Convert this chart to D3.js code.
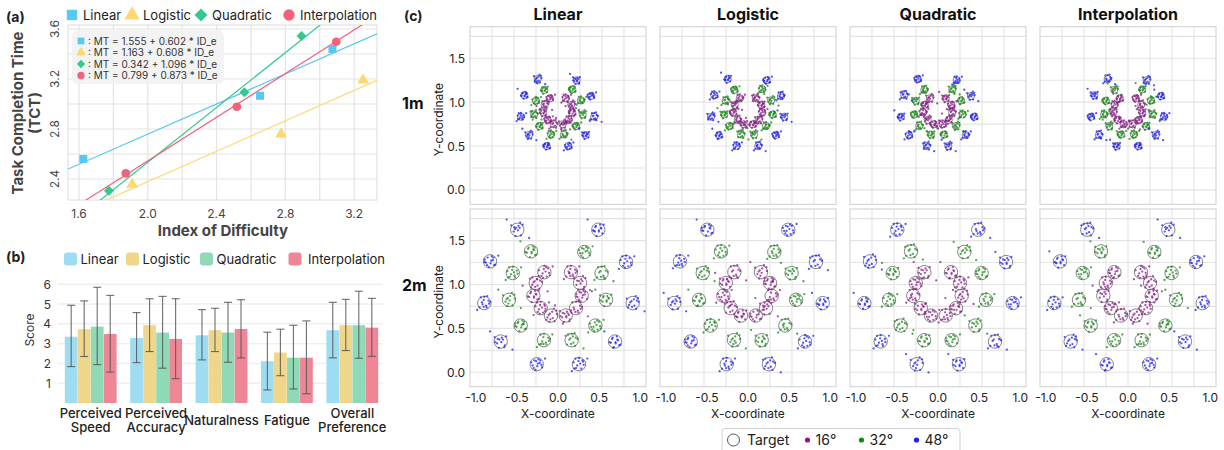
<!DOCTYPE html>
<html><head><meta charset="utf-8">
<script src="https://cdn.jsdelivr.net/npm/d3@7"></script>
<style>
body{margin:0;background:#fff;}
svg{font-family:Inter,"Noto Sans",sans-serif;}
</style></head>
<body><svg id="c" width="1224" height="450"></svg>
<script>
// ---------- DATA ----------
const methods = ["Linear","Logistic","Quadratic","Interpolation"];
const colorsA = ["#56c8f2","#fcd873","#33c98f","#f1627c"];
const colorsB = ["#9edcf1","#efd68a","#8fd9b6","#ee8696"];
// (a) index of difficulty vs TCT
const idLinear = [1.625, 2.653, 3.074], tctLinear = [2.56, 3.066, 3.44];
const idLogistic = [1.909, 2.775, 3.252], tctLogistic = [2.357, 2.76, 3.192];
const idQuadratic = [1.774, 2.562, 2.894], tctQuadratic = [2.306, 3.094, 3.544];
const idInterp = [1.872, 2.518, 3.096], tctInterp = [2.445, 2.978, 3.498];
const fitIntercept = [1.555, 1.163, 0.342, 0.799];
const fitSlope = [0.602, 0.608, 1.096, 0.873];
const xTicksA = [1.6, 2.0, 2.4, 2.8, 3.2];
const yTicksA = [2.4, 2.8, 3.2, 3.6];
// (b) subjective ratings
const categoriesB = [["Perceived","Speed"],["Perceived","Accuracy"],["Naturalness"],["Fatigue"],["Overall","Preference"]];
const meanLinear = [3.35, 3.29, 3.42, 2.11, 3.68];
const meanLogistic = [3.73, 3.93, 3.68, 2.55, 3.93];
const meanQuadratic = [3.86, 3.56, 3.56, 2.29, 3.93];
const meanInterp = [3.49, 3.24, 3.74, 2.29, 3.81];
const errLoLinear = [1.84, 2.04, 2.18, 0.66, 2.28], errHiLinear = [4.94, 4.57, 4.72, 3.58, 5.09];
const errLoLogistic = [2.35, 2.6, 2.6, 1.38, 2.65], errHiLogistic = [5.16, 5.27, 4.79, 3.73, 5.24];
const errLoQuadratic = [1.94, 1.76, 2.06, 0.71, 2.26], errHiQuadratic = [5.85, 5.39, 5.09, 3.93, 5.65];
const errLoInterp = [1.56, 1.23, 2.28, 0.47, 2.36], errHiInterp = [5.44, 5.27, 5.22, 4.15, 5.29];
const yTicksB = [1,2,3,4,5,6];
// (c) target positions (x, y) per ring and distance
const targets2m_16 = [[-0.166,1.14],[0.158,1.14],[-0.27,1.016],[0.268,1.016],[-0.30,0.871],[0.288,0.871],[-0.21,0.73],[0.219,0.73],[-0.085,0.646],[0.094,0.646]];
const targets2m_32 = [[-0.328,1.377],[0.32,1.37],[-0.55,1.13],[0.53,1.13],[-0.596,0.825],[0.584,0.825],[-0.454,0.532],[0.454,0.532],[-0.17,0.365],[0.166,0.365]];
const targets2m_48 = [[-0.495,1.624],[0.49,1.624],[-0.827,1.263],[0.827,1.256],[-0.896,0.788],[0.908,0.788],[-0.697,0.35],[0.693,0.35],[-0.259,0.091],[0.255,0.091]];
const targets1m_16 = [[-0.10,1.044],[0.095,1.044],[-0.162,0.97],[0.161,0.97],[-0.18,0.883],[0.173,0.883],[-0.126,0.798],[0.131,0.798],[-0.051,0.748],[0.056,0.748]];
const targets1m_32 = [[-0.166,1.14],[0.174,1.146],[-0.27,1.016],[0.28,1.02],[-0.29,0.86],[0.30,0.86],[-0.227,0.728],[0.219,0.728],[-0.085,0.632],[0.073,0.632]];
const targets1m_48 = [[-0.247,1.264],[0.227,1.25],[-0.41,1.08],[0.40,1.07],[-0.45,0.834],[0.44,0.834],[-0.353,0.625],[0.337,0.625],[-0.137,0.50],[0.125,0.50]];
// hand-read scatter of user endpoints around a target (normalised offsets)
const hitOffsets = [[0.1,-0.3],[0.5,0.2],[-0.4,0.6],[-0.7,-0.2],[0.3,0.8],[0.9,-0.5],[-0.2,-0.9],[0.6,0.6],[-0.9,0.3],[0.2,0.1],
 [-0.5,-0.6],[1.4,0.9],[-0.1,0.5],[0.8,-0.1],[-0.3,-0.2],[0.4,-0.7],[-1.2,-1.1],[0.0,1.0],[-0.6,0.9],[0.7,0.4],
 [-0.8,-0.7],[0.3,-0.4],[-0.1,-0.6],[1.0,0.2],[-0.4,0.1],[0.5,1.1],[2.0,-1.3],[-0.2,0.3],[0.6,-0.9],[-1.0,0.7],
 [0.2,0.6],[-0.6,-0.3],[0.9,0.8],[-0.3,-1.0],[0.1,-0.1],[-1.8,1.6],[0.4,0.3],[-0.5,0.4],[0.7,-0.6],[-0.9,-0.1]];
const ringLabels = ["16°","32°","48°"];
const ringColors = ["#8a1a8a","#168a16","#1f1ff5"];
const rowLabels = ["1m","2m"];
const xTicksC = [-1,-0.5,0,0.5,1];
const xTickLabelsC = ["-1.0","-0.5","0.0","0.5","1.0"];
const yTicksC = [0,0.5,1,1.5];
const yTickLabelsC = ["0.0","0.5","1.0","1.5"];

// ---------- DRAW ----------
const svg = d3.select("#c");
svg.append("rect").attr("width",1224).attr("height",450).attr("fill","#fff");

// ===== Panel (a) =====
const gA = svg.append("g");
const xA = d3.scaleLinear().domain([1.536, 3.333]).range([68, 377]);
const yA = d3.scaleLinear().domain([2.232, 3.632]).range([200, 25]);
gA.append("text").attr("x",6).attr("y",22).attr("font-size",14).attr("font-weight",700).attr("fill","#222").text("(a)");
gA.append("g").selectAll("line").data(d3.range(1.6,3.3,0.2)).join("line")
  .attr("x1",d=>xA(d)).attr("x2",d=>xA(d)).attr("y1",25).attr("y2",200).attr("stroke","#e4e4e4").attr("stroke-width",1.2);
gA.append("g").selectAll("line").data(d3.range(2.4,3.65,0.2)).join("line")
  .attr("y1",d=>yA(d)).attr("y2",d=>yA(d)).attr("x1",68).attr("x2",377).attr("stroke","#e4e4e4").attr("stroke-width",1.2);
gA.append("rect").attr("x",68).attr("y",25).attr("width",309).attr("height",175).attr("fill","none").attr("stroke","#dcdcdc");
gA.selectAll(".xt").data(xTicksA).join("text").attr("x",d=>xA(d)).attr("y",218).attr("text-anchor","middle")
  .attr("font-size",12).attr("fill","#444").text(d=>d.toFixed(1));
gA.selectAll(".yt").data(yTicksA).join("text").attr("transform",d=>`translate(59,${yA(d)}) rotate(-90)`)
  .attr("text-anchor","middle").attr("font-size",12).attr("fill","#444").text(d=>d.toFixed(1));
gA.append("text").attr("x",223).attr("y",236).attr("text-anchor","middle").attr("font-size",15).attr("font-weight",700).attr("fill","#444").text("Index of Difficulty");
gA.append("text").attr("transform","translate(23,113) rotate(-90)").attr("text-anchor","middle").attr("font-size",15).attr("font-weight",700).attr("fill","#444").text("Task Completion Time");
gA.append("text").attr("transform","translate(40,113) rotate(-90)").attr("text-anchor","middle").attr("font-size",15).attr("font-weight",700).attr("fill","#444").text("(TCT)");
svg.append("clipPath").attr("id","clipA").append("rect").attr("x",68).attr("y",25).attr("width",309).attr("height",175);
const fits = gA.append("g").attr("clip-path","url(#clipA)");
methods.forEach((m,i)=>{
  const [x0,x1] = xA.domain();
  fits.append("line").attr("x1",xA(x0)).attr("y1",yA(fitIntercept[i]+fitSlope[i]*x0))
    .attr("x2",xA(x1)).attr("y2",yA(fitIntercept[i]+fitSlope[i]*x1)).attr("stroke",colorsA[i]).attr("stroke-width",1.2);
});
const symTypes = [d3.symbolSquare, d3.symbolTriangle, d3.symbolSquare, d3.symbolCircle];
const symSizes = [64, 60, 50, 60];
const symRot = [0,0,45,0];
const ptsA = [[idLinear,tctLinear],[idLogistic,tctLogistic],[idQuadratic,tctQuadratic],[idInterp,tctInterp]];
ptsA.forEach(([xs,ys],i)=>{
  gA.append("g").selectAll("path").data(xs.map((x,j)=>[x,ys[j]])).join("path")
    .attr("d",d3.symbol().type(symTypes[i]).size(symSizes[i]))
    .attr("transform",d=>`translate(${xA(d[0])},${yA(d[1])}) rotate(${symRot[i]})`).attr("fill",colorsA[i]);
});
// equation box
gA.append("rect").attr("x",72).attr("y",30).attr("width",152).attr("height",54).attr("rx",6).attr("fill","#f2f2f2").attr("opacity",0.92);
methods.forEach((m,i)=>{
  const y = 41 + i*11.5;
  gA.append("path").attr("d",d3.symbol().type(symTypes[i]).size(symSizes[i]*0.7))
    .attr("transform",`translate(81,${y}) rotate(${symRot[i]})`).attr("fill",colorsA[i]);
  gA.append("text").attr("x",88).attr("y",y+3.5).attr("font-size",10).attr("fill","#333")
    .text(`: MT = ${fitIntercept[i].toFixed(3)} + ${fitSlope[i].toFixed(3)} * ID_e`);
});
// legend (a)
const legAx = [72, 132, 201, 289];
methods.forEach((m,i)=>{
  gA.append("path").attr("d",d3.symbol().type(symTypes[i]).size(symSizes[i]*1.7))
    .attr("transform",`translate(${legAx[i]},15) rotate(${symRot[i]})`).attr("fill",colorsA[i]);
  gA.append("text").attr("x",legAx[i]+11).attr("y",20).attr("font-size",13).attr("fill","#222").text(m);
});

// ===== Panel (b) =====
const gB = svg.append("g");
gB.append("text").attr("x",6).attr("y",262).attr("font-size",14).attr("font-weight",700).attr("fill","#222").text("(b)");
const yB = d3.scaleLinear().domain([0,6]).range([403,284.3]);
const x0B = d3.scaleBand().domain(d3.range(categoriesB.length)).range([58,385]).paddingInner(0.2).paddingOuter(0.1);
const x1B = d3.scaleBand().domain(d3.range(4)).range([0,x0B.bandwidth()]).padding(0.02);
gB.selectAll(".g").data(yTicksB).join("line").attr("x1",58).attr("x2",383).attr("y1",d=>yB(d)).attr("y2",d=>yB(d))
  .attr("stroke","#efefef").attr("stroke-width",1.5);
gB.selectAll(".yt").data(yTicksB).join("text").attr("x",51).attr("y",d=>yB(d)+4.5).attr("text-anchor","end")
  .attr("font-size",12).attr("fill","#333").text(d=>d);
gB.append("text").attr("transform","translate(34,330) rotate(-90)").attr("text-anchor","middle").attr("font-size",12).attr("fill","#333").text("Score");
const meansB = [meanLinear, meanLogistic, meanQuadratic, meanInterp];
const loB = [errLoLinear, errLoLogistic, errLoQuadratic, errLoInterp];
const hiB = [errHiLinear, errHiLogistic, errHiQuadratic, errHiInterp];
categoriesB.forEach((cat,ci)=>{
  const g = gB.append("g").attr("transform",`translate(${x0B(ci)},0)`);
  methods.forEach((m,mi)=>{
    g.append("rect").attr("x",x1B(mi)).attr("y",yB(meansB[mi][ci])).attr("width",x1B.bandwidth())
      .attr("height",yB(0)-yB(meansB[mi][ci])).attr("fill",colorsB[mi]);
  });
  methods.forEach((m,mi)=>{
    const cx = x1B(mi)+x1B.bandwidth()/2;
    g.append("line").attr("x1",cx).attr("x2",cx).attr("y1",yB(loB[mi][ci])).attr("y2",yB(hiB[mi][ci])).attr("stroke","#555").attr("stroke-width",1.1).attr("opacity",0.85);
    [loB[mi][ci],hiB[mi][ci]].forEach(v=>g.append("line").attr("x1",cx-4).attr("x2",cx+4).attr("y1",yB(v)).attr("y2",yB(v)).attr("stroke","#555").attr("stroke-width",1.1).attr("opacity",0.85));
  });
  const cx = x0B(ci)+x0B.bandwidth()/2;
  const lines = cat;
  lines.forEach((t,li)=>{
    gB.append("text").attr("x",cx).attr("y", lines.length===1 ? 424.5 : 418 + li*14).attr("text-anchor","middle")
      .attr("font-size",13).attr("font-weight",500).attr("fill","#222").text(t);
  });
});
const legBx = [64, 126, 200, 288.5];
methods.forEach((m,i)=>{
  gB.append("rect").attr("x",legBx[i]).attr("y",252.5).attr("width",13).attr("height",13).attr("rx",3).attr("fill",colorsB[i]);
  gB.append("text").attr("x",legBx[i]+(i===3?19.5:16.5)).attr("y",263.5).attr("font-size",13).attr("fill","#222").text(m);
});

// ===== Panel (c) =====
const gC = svg.append("g");
gC.append("text").attr("x",404).attr("y",21).attr("font-size",14).attr("font-weight",700).attr("fill","#222").text("(c)");
const colB = d3.scaleBand().domain(d3.range(4)).range([470,1216]).paddingInner(0.0737);
const rowTops = [26.7, 209];
const panelH = 177.7;
const xDom = [-1.07, 1.07], yDom = [-0.165, 1.86];
const targetsByRow = [[targets1m_16,targets1m_32,targets1m_48],[targets2m_16,targets2m_32,targets2m_48]];
const spreadByRow = [0.045, 0.072];
const circleR = [3.6, 6.7];
const ptsPerTarget = 14;
methods.forEach((m,c)=>{
  gC.append("text").attr("x",colB(c)+colB.bandwidth()/2).attr("y",20).attr("text-anchor","middle")
    .attr("font-size",16).attr("font-weight",700).attr("fill","#111").text(m);
});
rowLabels.forEach((lab,r)=>{
  gC.append("text").attr("x",402).attr("y",rowTops[r]+panelH/2-7).attr("font-size",16).attr("font-weight",700).attr("fill","#111").text(lab);
  gC.append("text").attr("transform",`translate(443,${rowTops[r]+panelH/2+4}) rotate(-90)`).attr("text-anchor","middle")
    .attr("font-size",12).attr("fill","#222").text("Y-coordinate");
});
for(let r=0;r<2;r++){
  for(let c=0;c<4;c++){
    const p = r*4+c;
    const left = colB(c), w = colB.bandwidth(), top = rowTops[r];
    const xs = d3.scaleLinear().domain(xDom).range([left,left+w]);
    const ys = d3.scaleLinear().domain(yDom).range([top+panelH,top]);
    const g = gC.append("g");
    g.append("rect").attr("x",left).attr("y",top).attr("width",w).attr("height",panelH).attr("fill","#fff");
    const vGrid = d3.range(1,8).map(i=>xDom[0]+i*(xDom[1]-xDom[0])/8);
    g.selectAll(".vg").data(vGrid).join("line").attr("x1",d=>xs(d)).attr("x2",d=>xs(d)).attr("y1",top).attr("y2",top+panelH).attr("stroke","#e3e3e3").attr("stroke-width",1.1);
    g.selectAll(".hg").data(d3.range(0,1.8,0.25)).join("line").attr("y1",d=>ys(d)).attr("y2",d=>ys(d)).attr("x1",left).attr("x2",left+w).attr("stroke","#e3e3e3").attr("stroke-width",1.1);
    g.append("rect").attr("x",left).attr("y",top).attr("width",w).attr("height",panelH).attr("fill","none").attr("stroke","#d6d6d6").attr("stroke-width",1.2);
    // points
    const pts = [];
    targetsByRow[r].forEach((ring,ri)=>{
      ring.forEach((t,ti)=>{
        const k = ri*10+ti;
        const start = (k*7 + p*11) % hitOffsets.length;
        for(let j=0;j<ptsPerTarget;j++){
          const o = hitOffsets[(start+j)%hitOffsets.length];
          pts.push({x:t[0]+o[0]*spreadByRow[r], y:t[1]+o[1]*spreadByRow[r], ring:ri});
        }
      });
    });
    targetsByRow[r].forEach(ring=>{
      g.append("g").selectAll("circle").data(ring).join("circle").attr("cx",d=>xs(d[0])).attr("cy",d=>ys(d[1]))
        .attr("r",circleR[r]).attr("fill","none").attr("stroke","#666").attr("stroke-width",0.8);
    });
    g.append("g").selectAll("circle").data(pts).join("circle").attr("cx",d=>xs(d.x)).attr("cy",d=>ys(d.y))
      .attr("r",r===0?1.15:1.15).attr("fill",d=>ringColors[d.ring]).attr("opacity",0.75);
    if(c===0){
      g.selectAll(".yl").data(yTicksC).join("text").attr("x",left-5).attr("y",(d)=>ys(d)+4.5).attr("text-anchor","end")
        .attr("font-size",12).attr("fill","#222").text((d,i)=>yTickLabelsC[i]);
    }
    if(r===1){
      g.selectAll(".xl").data(xTicksC).join("text").attr("x",d=>xs(d)).attr("y",401.5).attr("text-anchor","middle")
        .attr("font-size",12).attr("fill","#222").text((d,i)=>xTickLabelsC[i]);
      g.append("text").attr("x",left+w/2).attr("y",417.5).attr("text-anchor","middle").attr("font-size",12).attr("fill","#222").text("X-coordinate");
    }
  }
}
// legend (c)
const gL = gC.append("g");
gL.append("rect").attr("x",722).attr("y",428.5).attr("width",238).attr("height",30).attr("rx",3).attr("fill","#fff").attr("stroke","#d0d0d0");
gL.append("circle").attr("cx",733.5).attr("cy",440).attr("r",6).attr("fill","none").attr("stroke","#444").attr("stroke-width",0.9);
gL.append("text").attr("x",747).attr("y",445).attr("font-size",14).attr("fill","#222").text("Target");
const legCx = [807.5, 861.5, 916.5];
ringLabels.forEach((lab,i)=>{
  gL.append("circle").attr("cx",legCx[i]).attr("cy",440).attr("r",2.6).attr("fill",ringColors[i]);
  gL.append("text").attr("x",legCx[i]+8).attr("y",445).attr("font-size",14).attr("fill","#222").text(lab);
});
</script></body></html>
